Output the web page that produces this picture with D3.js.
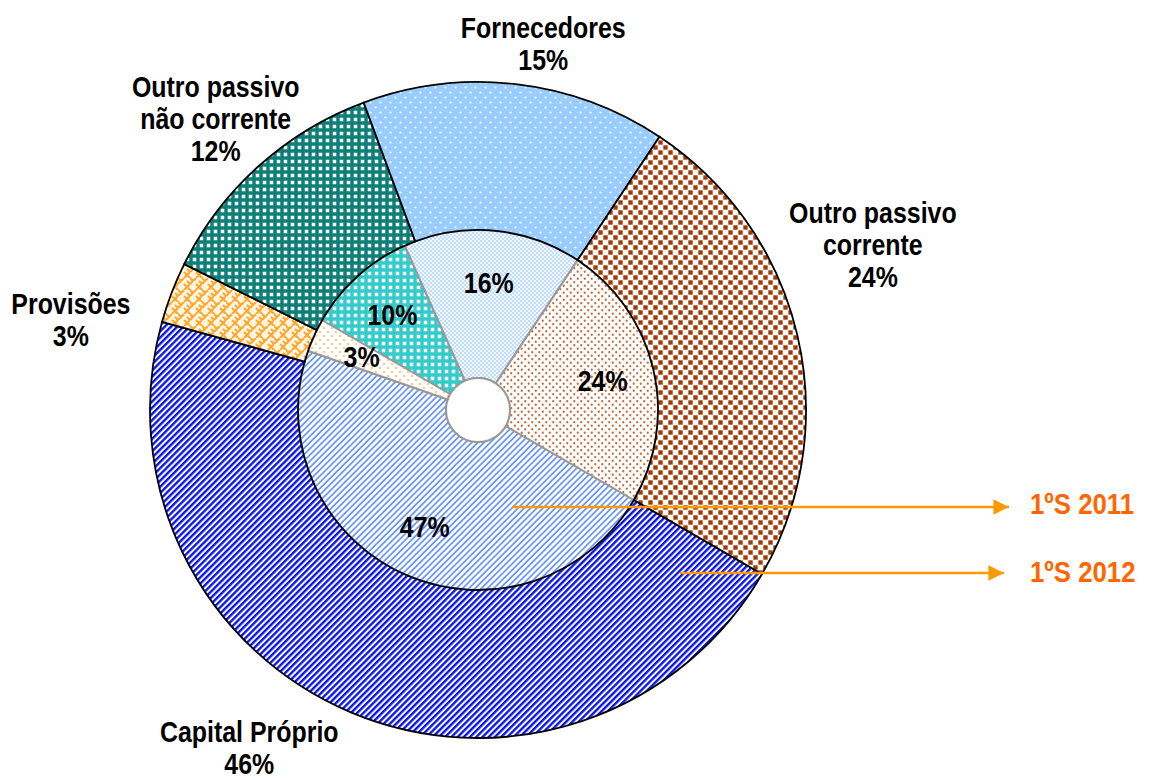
<!DOCTYPE html>
<html>
<head>
<meta charset="utf-8">
<script src="https://cdn.jsdelivr.net/npm/d3@7"></script>
<style>
  html, body { margin: 0; padding: 0; background: #fff; }
  svg { display: block; }
  text { font-family: "Liberation Sans Narrow", "Arial Narrow", "Liberation Sans", Arial, sans-serif; font-weight: bold; }
</style>
</head>
<body>
<svg id="chart" width="1149" height="780"></svg>
<script>
// ---- data ----
const categories = ["Capital Próprio", "Provisões", "Outro passivo não corrente", "Fornecedores", "Outro passivo corrente"];
const labelLines = [["Capital Próprio"], ["Provisões"], ["Outro passivo", "não corrente"], ["Fornecedores"], ["Outro passivo", "corrente"]];
const values2012 = [46, 3, 12, 15, 24];   // outer ring (1ºS 2012)
const values2011 = [47, 3, 10, 16, 24];   // inner ring (1ºS 2011)
const seriesNames = ["1ºS 2011", "1ºS 2012"];

// ---- layout ----
const cx = 478, cy = 410;
const rHole = 32, rMid = 180, rOuter = 328;
const startDeg = 120;
const narrow = 0.86;   // horizontal condensing to mimic a narrow face

// outer label placement (angle nudge in degrees, radius)
const outerLabelAdj = [
  { dAng: 11.3, r: 408 },
  { dAng: -8.5, r: 417 },
  { dAng: 0, r: 392 },
  { dAng: 3.5, r: 372 },
  { dAng: -9.5, r: 428 }
];

const svg = d3.select("#chart");
const defs = svg.append("defs");

function stripes(id, color, period, width) {
  const p = defs.append("pattern").attr("id", id).attr("patternUnits", "userSpaceOnUse")
    .attr("width", period).attr("height", period).attr("patternTransform", "rotate(45)");
  p.append("rect").attr("width", period).attr("height", period).attr("fill", "#fff");
  p.append("rect").attr("width", width).attr("height", period).attr("fill", color);
}
function dots(id, bg, color, size, r, pts, square) {
  const p = defs.append("pattern").attr("id", id).attr("patternUnits", "userSpaceOnUse")
    .attr("width", size).attr("height", size);
  p.append("rect").attr("width", size).attr("height", size).attr("fill", bg);
  pts.forEach(([x, y]) => {
    if (square) p.append("rect").attr("x", x - r).attr("y", y - r).attr("width", 2 * r).attr("height", 2 * r).attr("fill", color);
    else p.append("circle").attr("cx", x).attr("cy", y).attr("r", r).attr("fill", color);
  });
}
function checker(id, color, size, hole) {
  const p = defs.append("pattern").attr("id", id).attr("patternUnits", "userSpaceOnUse")
    .attr("width", size).attr("height", size);
  p.append("rect").attr("width", size).attr("height", size).attr("fill", color);
  p.append("rect").attr("x", (size - hole) / 2).attr("y", (size - hole) / 2).attr("width", hole).attr("height", hole).attr("fill", "#fff");
}
function weave(id, bg, color) {
  const p = defs.append("pattern").attr("id", id).attr("patternUnits", "userSpaceOnUse")
    .attr("width", 12).attr("height", 12);
  p.append("rect").attr("width", 12).attr("height", 12).attr("fill", bg);
  p.append("path").attr("d", "M0,6 L6,0 M6,12 L12,6 M0,0 L3,3 M6,6 L12,12 M-1,11 L1,13 M9,3 L12,6")
    .attr("stroke", color).attr("stroke-width", 2).attr("fill", "none");
}

// outer (2012) patterns
stripes("capO", "#0a14f0", 4.4, 2.4);
weave("provO", "#fff4e4", "#ffa726");
checker("oncO", "#0c8078", 7, 3.5);
dots("fornO", "#99ccff", "#ffffff", 10, 1.1, [[2.5, 2.5], [7.5, 7.5]], false);
dots("opcO", "#ffffff", "#a33a06", 10, 2.2, [[2.5, 2.5], [7.5, 7.5]], true);
// inner (2011) patterns
stripes("capI", "#6d98f8", 4.4, 1.8);
dots("provI", "#ffffff", "#ffc98a", 8, 1.2, [[2, 2], [6, 6]], false);
checker("oncI", "#33cccc", 7, 3.5);
dots("fornI", "#f3f8ff", "#a9d0fb", 4, 0.9, [[1, 1], [3, 3]], false);
dots("opcI", "#ffffff", "#c0703e", 7, 1.15, [[1.75, 1.75], [5.25, 5.25]], false);

const outerFills = ["url(#capO)", "url(#provO)", "url(#oncO)", "url(#fornO)", "url(#opcO)"];
const innerFills = ["url(#capI)", "url(#provI)", "url(#oncI)", "url(#fornI)", "url(#opcI)"];

const pie = d3.pie().sort(null)
  .startAngle(startDeg * Math.PI / 180)
  .endAngle(startDeg * Math.PI / 180 + 2 * Math.PI);

const innerArcs = pie(values2011);
const outerArcs = pie(values2012);

const arcInner = d3.arc().innerRadius(rHole).outerRadius(rMid);
const arcOuter = d3.arc().innerRadius(rMid).outerRadius(rOuter);

const g = svg.append("g").attr("transform", `translate(${cx},${cy})`);

g.selectAll("path.inner").data(innerArcs).enter().append("path")
  .attr("class", "inner")
  .attr("d", arcInner)
  .attr("fill", (d, i) => innerFills[i])
  .attr("stroke", "#999")
  .attr("stroke-width", 2);

g.selectAll("path.outer").data(outerArcs).enter().append("path")
  .attr("class", "outer")
  .attr("d", arcOuter)
  .attr("fill", (d, i) => outerFills[i])
  .attr("stroke", "#000")
  .attr("stroke-width", 1.8);

g.append("circle").attr("r", rHole).attr("fill", "#fff").attr("stroke", "#999").attr("stroke-width", 2);

function polar(angRad, r) { return [Math.sin(angRad) * r, -Math.cos(angRad) * r]; }

function narrowText(parent, x, y, lines, size, color, anchor, lh) {
  const grp = parent.append("g").attr("transform", `translate(${x},${y}) scale(${narrow},1)`);
  const t = grp.append("text").attr("text-anchor", anchor).attr("font-size", size).attr("fill", color);
  lines.forEach((ln, k) => {
    t.append("tspan").attr("x", 0).attr("y", (k - (lines.length - 1) / 2) * lh).attr("dy", "0.36em").text(ln);
  });
  return grp;
}

// inner percentage labels
const innerLabel = d3.arc().innerRadius(128).outerRadius(128);
innerArcs.forEach(d => {
  const [x, y] = innerLabel.centroid(d);
  narrowText(g, x, y, [d.data + "%"], 29, "#000", "middle", 0);
});

// outer labels
outerArcs.forEach((d, i) => {
  const mid = (d.startAngle + d.endAngle) / 2 + outerLabelAdj[i].dAng * Math.PI / 180;
  const [x, y] = polar(mid, outerLabelAdj[i].r);
  narrowText(g, x, y, labelLines[i].concat([d.data + "%"]), 29, "#000", "middle", 32);
});

// series arrows
const marker = defs.append("marker").attr("id", "arrow").attr("viewBox", "0 0 10 10")
  .attr("refX", 10).attr("refY", 5).attr("markerWidth", 6.5).attr("markerHeight", 6.5)
  .attr("markerUnits", "strokeWidth").attr("orient", "auto");
marker.append("path").attr("d", "M0,0 L10,5 L0,10 z").attr("fill", "#ff9900");

const arrows = [
  { x1: 512, y: 507, x2: 1009, tx: 1030, ty: 503 },
  { x1: 680, y: 573, x2: 1004, tx: 1030, ty: 571 }
];
arrows.forEach((a, i) => {
  svg.append("line").attr("x1", a.x1).attr("y1", a.y).attr("x2", a.x2).attr("y2", a.y)
    .attr("stroke", "#ff9900").attr("stroke-width", 2.4).attr("marker-end", "url(#arrow)");
  narrowText(svg, a.tx, a.ty, [seriesNames[i]], 30, "#ff6600", "start", 0);
});
</script>
</body>
</html>
